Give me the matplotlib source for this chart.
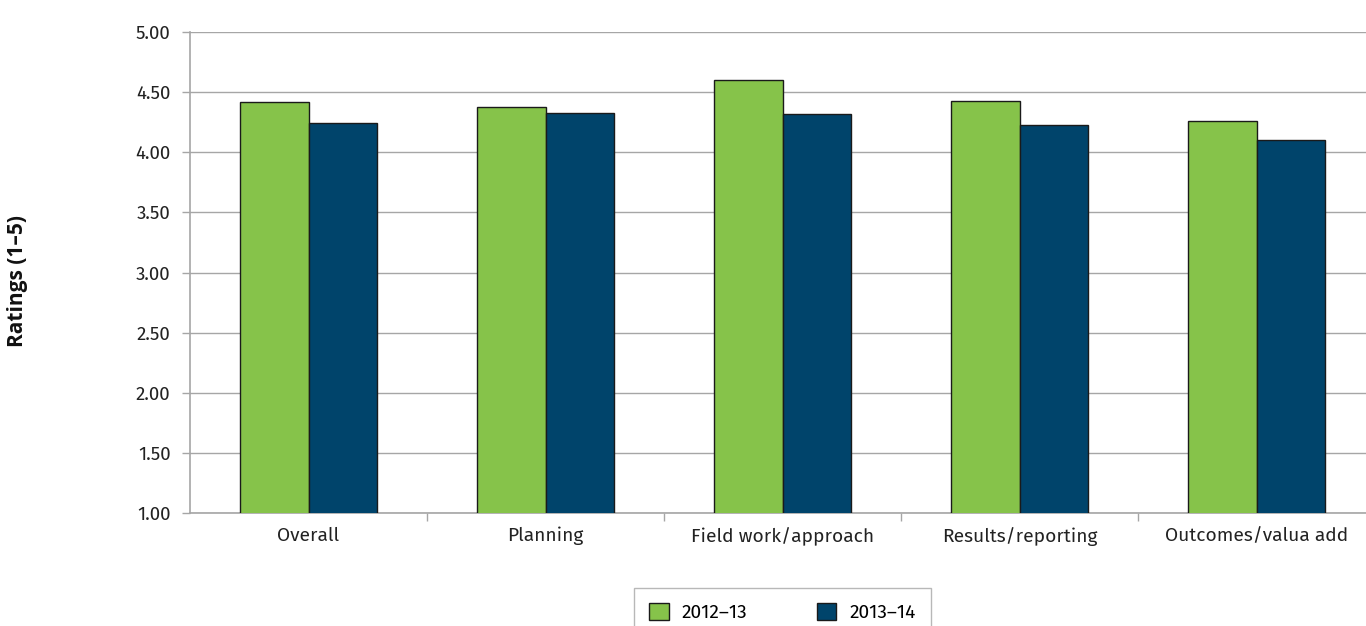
import matplotlib
matplotlib.use("Agg")
import matplotlib.pyplot as plt
import numpy as np

categories = ["Overall", "Planning", "Field work/approach", "Results/reporting", "Outcomes/valua add"]
series_names = ["2012\u201313", "2013\u201314"]
values_2012 = [4.42, 4.38, 4.60, 4.43, 4.26]
values_2013 = [4.24, 4.33, 4.32, 4.23, 4.10]
y_ticks = [1.00, 1.50, 2.00, 2.50, 3.00, 3.50, 4.00, 4.50, 5.00]

green = "#86c34a"
navy = "#00446b"
grey = "#a6a6a6"

plt.rcParams['font.family'] = ['Fira Sans', 'Lato', 'DejaVu Sans']

fig = plt.figure(figsize=(13.66, 6.26), dpi=100)
ax = fig.add_axes([190/1366, 1-513/626, 1185/1366, (513-32)/626])

x = np.arange(len(categories))
w = 0.287
ax.bar(x - w/2, values_2012, w, color=green, edgecolor="#1a1a1a", linewidth=1.0, label=series_names[0], zorder=3)
ax.bar(x + w/2, values_2013, w, color=navy, edgecolor="#1a1a1a", linewidth=1.0, label=series_names[1], zorder=3)

ax.set_ylim(1.0, 5.0)
ax.set_xlim(-0.5, len(categories) - 0.5)
ax.set_yticks(y_ticks)
ax.set_yticklabels([f"{t:.2f}" for t in y_ticks], fontsize=13.5, color="#222222")
ax.yaxis.grid(True, color=grey, linewidth=1.0, zorder=0)
ax.set_axisbelow(True)

ax.set_xticks(x)
ax.set_xticklabels(categories, fontsize=13.8, color="#222222")
ax.tick_params(axis='x', length=0, pad=10)
ax.set_xticks(np.arange(len(categories)) + 0.5, minor=True)
ax.tick_params(axis='x', which='minor', length=6, color=grey, width=1.0)
ax.tick_params(axis='y', length=6, color=grey, width=1.0, pad=8)

for s in ['top', 'right']:
    ax.spines[s].set_visible(False)
for s in ['left', 'bottom']:
    ax.spines[s].set_color(grey)
    ax.spines[s].set_linewidth(1.2)

fig.text(18/1366, 1-281/626, "Ratings (1\u20135)", rotation=90, ha='center', va='center',
         fontsize=15, fontweight='bold', family=['Open Sans', 'DejaVu Sans'], color="#111111")

leg = fig.legend(loc='upper left', bbox_to_anchor=(634/1366, 1-588/626), ncol=2, frameon=True,
                 fontsize=13.8, handlelength=1.0, handleheight=1.0, columnspacing=3.6,
                 handletextpad=0.7, borderpad=0.8, borderaxespad=0, fancybox=False, edgecolor=grey)
leg.get_frame().set_linewidth(1.0)

fig.savefig("out.png", dpi=100)
